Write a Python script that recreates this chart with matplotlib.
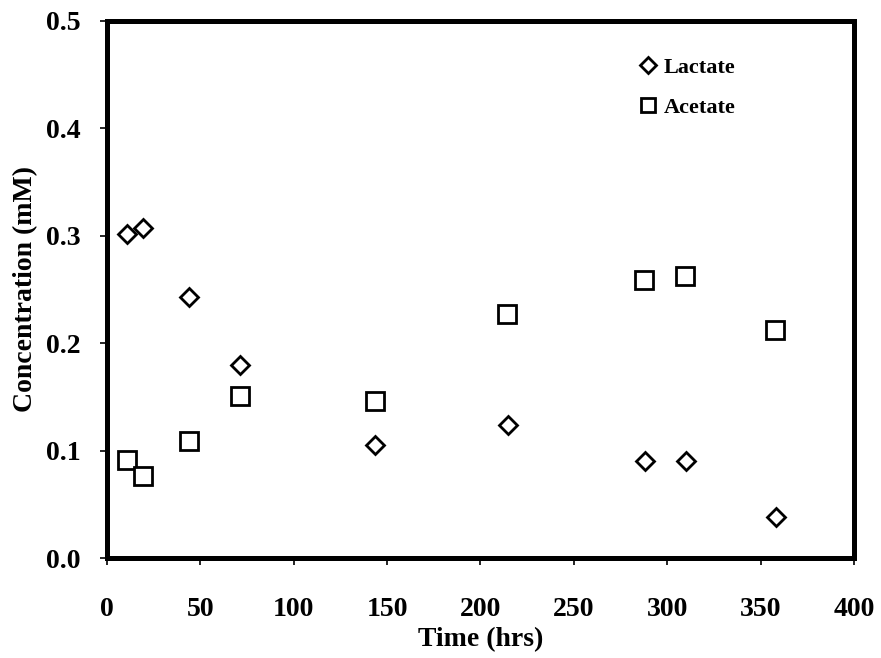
import matplotlib
matplotlib.use("Agg")
import matplotlib.pyplot as plt

time_lactate = [10.5, 19.3, 44.0, 71.2, 143.5, 214.7, 288.0, 310.0, 358.0]
lactate = [0.302, 0.307, 0.243, 0.180, 0.105, 0.124, 0.090, 0.090, 0.038]
time_acetate = [10.7, 19.3, 44.0, 71.2, 143.5, 214.3, 287.5, 309.5, 357.7]
acetate = [0.091, 0.076, 0.109, 0.151, 0.146, 0.227, 0.259, 0.263, 0.212]
x_ticks = [0, 50, 100, 150, 200, 250, 300, 350, 400]
y_ticks = [0.0, 0.1, 0.2, 0.3, 0.4, 0.5]

plt.rcParams['font.family'] = ['Liberation Serif', 'DejaVu Serif']
plt.rcParams['font.weight'] = 'bold'

fig = plt.figure(figsize=(8.81, 6.58), dpi=100)
ax = fig.add_axes([107/881, 1-558/658, (854-107)/881, (558-21)/658])

ax.plot(time_lactate, lactate, linestyle='none', marker='D', ms=9.5,
        mfc='white', mec='black', mew=2.0, label='Lactate')
ax.plot(time_acetate, acetate, linestyle='none', marker='s', ms=12.5,
        mfc='white', mec='black', mew=2.0, label='Acetate')

ax.set_xlim(0, 400)
ax.set_ylim(0, 0.5)
ax.set_xticks(x_ticks)
ax.set_yticks(y_ticks)
ax.set_xticklabels([str(v) for v in x_ticks])
ax.set_yticklabels([f"{v:.1f}" for v in y_ticks])
for s in ax.spines.values():
    s.set_linewidth(3.6)
ax.tick_params(axis='both', direction='out', length=5, width=1.2,
               labelsize=20)
ax.tick_params(axis='x', pad=23)
ax.tick_params(axis='y', pad=14)
for lab in ax.get_xticklabels() + ax.get_yticklabels():
    lab.set_fontweight('bold')

ax.set_xlabel('Time (hrs)', fontsize=20, fontweight='bold', labelpad=4)
ax.set_ylabel('Concentration (mM)', fontsize=20, fontweight='bold', labelpad=6)

leg = ax.legend(frameon=False, loc='upper left', bbox_to_anchor=(0.686, 0.970),
                handlelength=0.8, handletextpad=0.3, labelspacing=0.88,
                markerscale=0.85, prop={'family': 'Liberation Serif',
                                        'weight': 'bold', 'size': 16})

fig.savefig('out.png', dpi=100)
